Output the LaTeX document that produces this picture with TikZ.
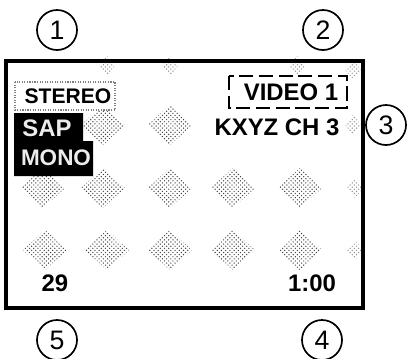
\documentclass[tikz,border=0pt]{standalone}
\usepackage{fontspec}
\setsansfont{Liberation Sans}
\usepackage{pgf, tikz}
\usetikzlibrary{patterns}
\usetikzlibrary{positioning}
\tikzset{
    every node/.style={font=\sffamily},
    num node/.style={line width=1.2pt,circle,draw,minimum size=1cm,inner sep=0pt,font=\sffamily\fontsize{19}{19}\selectfont},
    osd node/.style={inner sep=0pt,font=\sffamily\bfseries\fontsize{17}{17}\selectfont},
    blob/.style={pattern=crosshatch dots,pattern color=black!75}
}
\begin{document}
\begin{tikzpicture}[x=0.025cm,y=-0.025cm]

    \useasboundingbox (0,0) rectangle (413,358);

    % picture on the screen
    \foreach \x/\y in {43/188,103/188,170/188,233/188,300/188,
                       45/250,107/250,170/250,233/250,300/250,
                       103/125,170/125}
        \fill[blob] (\x,\y-20) -- (\x+22,\y) -- (\x,\y+20) -- (\x-22,\y) -- cycle;
    \foreach \x/\y in {107/66,170/66,297/66,353/70,353/125,355/188,355/250}
        \fill[blob,opacity=0.6] (\x,\y-10) -- (\x+8,\y) -- (\x,\y+10) -- (\x-8,\y) -- cycle;

    \draw[line width=2.2pt] (6,61) rectangle (363,308);

    \draw[gray,thick,densely dotted,fill=white] (15,82) rectangle (115,110);
    \node[osd node,font=\sffamily\bfseries\fontsize{15}{15}\selectfont] (stereo) at (68,96) {STEREO};

    \fill[black] (14,113) -- (83,113) -- (83,141) -- (93,141) -- (93,176) -- (14,176) -- cycle;
    \node[osd node,text=gray!15] (sap) at (47,128) {SAP};
    \node[osd node,text=gray!15,font=\sffamily\bfseries\fontsize{16}{16}\selectfont] (mono) at (56,158) {MONO};

    \draw[line width=1.5pt,dash pattern=on 10pt off 4pt] (229,76) rectangle (347,108);
    \node[osd node] (video) at (291,92) {VIDEO 1};
    \node[osd node] (chan) at (277,127) {KXYZ CH 3};

    \node[osd node] (ch) at (55,283) {29};
    \node[osd node] (time) at (312,283) {1:00};

    \node[num node] (n1) at (57,30) {1};
    \node[num node] (n2) at (323,30) {2};
    \node[num node] (n3) at (386,125) {3};
    \node[num node] (n4) at (322,340) {4};
    \node[num node] (n5) at (57,340) {5};

\end{tikzpicture}
\end{document}
